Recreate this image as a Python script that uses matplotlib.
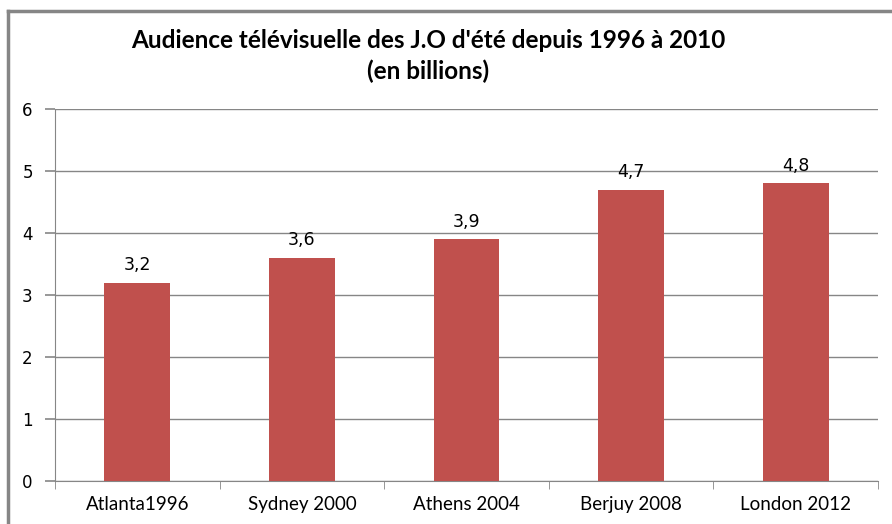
import matplotlib.pyplot as plt
from matplotlib.lines import Line2D
import numpy as np

# data
villes = ['Atlanta1996', 'Sydney 2000', 'Athens 2004', 'Berjuy 2008', 'London 2012']
audience = [3.2, 3.6, 3.9, 4.7, 4.8]
etiquettes = ['3,2', '3,6', '3,9', '4,7', '4,8']

fig = plt.figure(figsize=(8.92, 5.24), dpi=100)
ax = fig.add_axes([55 / 892, 1 - 481 / 524, 823 / 892, 372 / 524])

gris = '#868686'
x = np.arange(len(villes))
ax.bar(x, audience, width=0.4, color='#C0504D', zorder=3)

# data labels
for xi, v, t in zip(x, audience, etiquettes):
    ax.annotate(t, (xi, v), xytext=(0, 6), textcoords='offset points',
                ha='center', va='bottom', fontsize=12.5, family='DejaVu Sans')

ax.set_xlim(-0.5, len(villes) - 0.5)
ax.set_ylim(0, 6)
ax.set_yticks(range(0, 7))
ax.grid(axis='y', color=gris, linewidth=1, zorder=0)

ax.set_xticks(x)
ax.set_xticklabels(villes, family='Lato', fontsize=13.5)
ax.set_xticks(np.arange(-0.5, len(villes)), minor=True)
ax.tick_params(axis='x', which='major', length=0, pad=11)
ax.tick_params(axis='x', which='minor', length=6, color=gris, direction='out')
ax.tick_params(axis='y', length=7, width=1.2, color=gris, pad=9, labelsize=12)

for s in ['top', 'right']:
    ax.spines[s].set_visible(False)
for s in ['left', 'bottom']:
    ax.spines[s].set_color(gris)

fig.text(428 / 892, 1 - 40 / 524, "Audience télévisuelle des J.O d'été depuis 1996 à 2010",
         ha='center', va='center', family='Lato', fontweight='bold', fontsize=17.5)
fig.text(428 / 892, 1 - 71 / 524, '(en billions)',
         ha='center', va='center', family='Lato', fontweight='bold', fontsize=17.5)

# outer chart border (left and top only visible)
fig.add_artist(Line2D([8 / 892, 8 / 892], [0, 1 - 11 / 524], color=gris, linewidth=2.5))
fig.add_artist(Line2D([8 / 892, 1], [1 - 11 / 524, 1 - 11 / 524], color=gris, linewidth=2.5))

plt.savefig('out.png', dpi=100)
